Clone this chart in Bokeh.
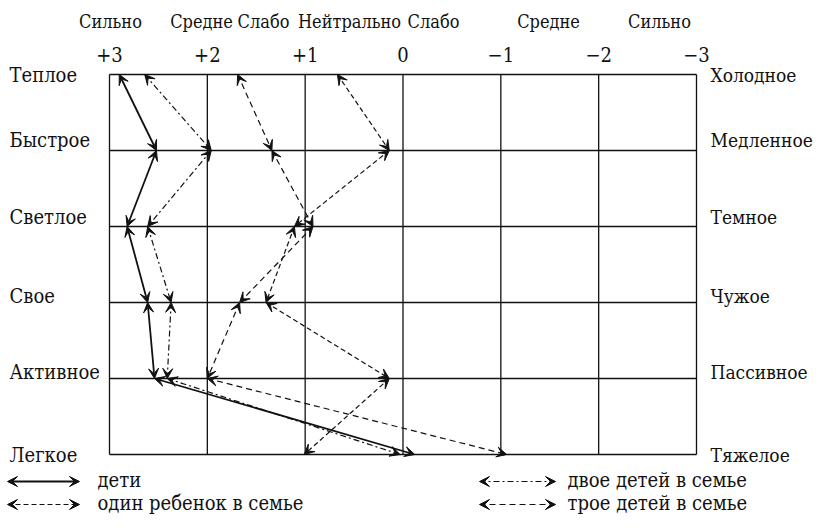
from bokeh.plotting import figure
from bokeh.models import Range1d, ColumnDataSource, Arrow, VeeHead
from bokeh.core.properties import value
from bokeh.embed import file_html
from bokeh.resources import INLINE

# ---------------- data ----------------
scale_values = [3, 2, 1, 0, -1, -2, -3]
scale_labels = ["+3", "+2", "+1", "0", "\u22121", "\u22122", "\u22123"]
intensity_labels = ["Сильно", "Средне", "Слабо", "Нейтрально", "Слабо", "Средне", "Сильно"]
left_terms = ["Теплое", "Быстрое", "Светлое", "Свое", "Активное", "Легкое"]
right_terms = ["Холодное", "Медленное", "Темное", "Чужое", "Пассивное", "Тяжелое"]

children = [2.90, 2.52, 2.82, 2.61, 2.54, -0.12]        # дети
one_child = [0.67, 0.14, 1.11, 1.40, 0.14, 1.01]       # один ребенок в семье
two_children = [2.64, 1.96, 2.61, 2.37, 2.41, 0.03]    # двое детей в семье
three_children = [1.69, 1.34, 0.92, 1.67, 2.00, -1.06] # трое детей в семье

series_names = ["дети", "один ребенок в семье", "двое детей в семье", "трое детей в семье"]

# ---------------- layout ----------------
W, H = 816, 520
ORIGIN = 1
PX_PER_UNIT = 587 / 6.0
X_LEFT = 3 + (110 - ORIGIN) / PX_PER_UNIT
X_RIGHT = X_LEFT - W / PX_PER_UNIT
PX_PER_ROW = 76.0
Y_TOP = -(75 - ORIGIN) / PX_PER_ROW
Y_BOTTOM = Y_TOP + H / PX_PER_ROW

def xpix(px):
    return X_LEFT - (px - ORIGIN) / PX_PER_UNIT

def ypix(py):
    return Y_TOP + (py - ORIGIN) / PX_PER_ROW

p = figure(width=W, height=H, x_range=Range1d(X_LEFT, X_RIGHT),
           y_range=Range1d(Y_BOTTOM, Y_TOP), output_backend="svg",
           toolbar_location=None, min_border=0)
p.axis.visible = False
p.grid.visible = False
p.outline_line_color = None
p.background_fill_color = "white"
p.border_fill_color = "white"

rows = list(range(len(left_terms)))
FONT = "DejaVu Serif Condensed"
INK = "#111111"
FS = "20px"

# grid
p.segment(x0=scale_values, y0=[rows[0]] * len(scale_values),
          x1=scale_values, y1=[rows[-1]] * len(scale_values),
          line_color=INK, line_width=1.3)
p.segment(x0=[scale_values[0]] * len(rows), y0=rows,
          x1=[scale_values[-1]] * len(rows), y1=rows,
          line_color=INK, line_width=1.3)

def txt(xs, ys, labels, align, size=FS):
    src = ColumnDataSource(dict(x=xs, y=ys, t=labels))
    p.text(x="x", y="y", text="t", source=src, text_font=value(FONT),
           text_font_size=value(size), text_align=align, text_baseline="middle",
           text_color=INK)

# top texts
txt(scale_values, [ypix(55)] * len(scale_values), scale_labels, "center")
word_px = [111, 202, 264, 350, 434, 549, 660]
txt([xpix(v) for v in word_px], [ypix(22)] * len(intensity_labels), intensity_labels,
    "center", "18px")

# row labels
label_offsets = [0, -0.14, -0.13, -0.09, -0.09, 0]
label_y = [r + o for r, o in zip(rows, label_offsets)]
txt([xpix(10)] * len(rows), label_y, left_terms, "left")
txt([xpix(711)] * len(rows), label_y, right_terms, "left", "19px")

styles = [
    dict(line_width=1.8, line_dash="solid"),
    dict(line_width=1.2, line_dash="5 3"),
    dict(line_width=1.2, line_dash="6 3 2 3"),
    dict(line_width=1.2, line_dash="6 4"),
]
all_series = [children, one_child, two_children, three_children]

def head():
    return VeeHead(size=10, fill_color=INK, line_color=INK, line_width=1)

for vals, st in zip(all_series, styles):
    src = ColumnDataSource(dict(x0=vals[:-1], y0=rows[:-1], x1=vals[1:], y1=rows[1:]))
    p.add_layout(Arrow(source=src, x_start="x0", y_start="y0", x_end="x1", y_end="y1",
                       start=head(), end=head(), line_color=INK, **st))

# legend
leg_pos = [(8, 80, 98, 482), (8, 80, 98, 505), (480, 556, 568, 482), (480, 556, 568, 505)]
for name, st, (a, b, t, yy) in zip(series_names, styles, leg_pos):
    src = ColumnDataSource(dict(x0=[xpix(a)], y0=[ypix(yy)], x1=[xpix(b)], y1=[ypix(yy)]))
    p.add_layout(Arrow(source=src, x_start="x0", y_start="y0", x_end="x1", y_end="y1",
                       start=head(), end=head(), line_color=INK, **st))
    txt([xpix(t)], [ypix(yy - 2)], [name], "left")

open("out.html", "w").write(file_html(p, INLINE))
